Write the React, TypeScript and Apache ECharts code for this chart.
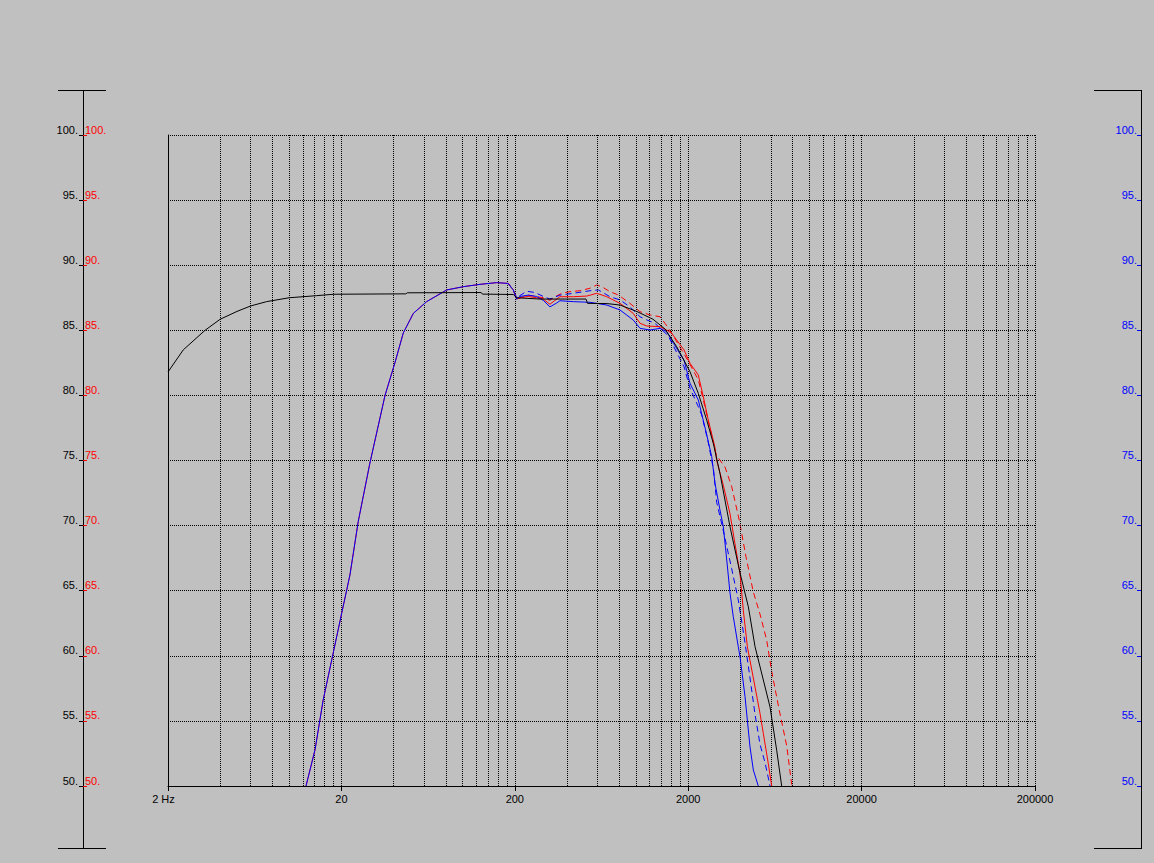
import React, { useEffect, useRef } from "react";
import * as echarts from "echarts";

const FONT = "'Liberation Sans', Arial, sans-serif";

// x-axis labelled frequencies (Hz)
const freqLabels = [2, 20, 200, 2000, 20000, 200000];

// vertical dotted grid frequencies (Hz)
const gridFreqs = [
  4, 6, 8, 10, 12, 14, 16, 18, 20,
  40, 60, 80, 100, 120, 140, 160, 180, 200,
  400, 600, 800, 1000, 1200, 1400, 1600, 1800, 2000,
  4000, 6000, 8000, 10000, 12000, 14000, 16000, 18000, 20000,
  40000, 60000, 80000, 100000, 120000, 140000, 160000, 180000, 200000,
];

// [frequency Hz, level dB]
const blackCurve = [
  [2, 81.8], [2.45, 83.5], [3.27, 85.0], [4, 85.85], [5, 86.45], [6, 86.87], [7.4, 87.2],
  [10, 87.5], [14.4, 87.66], [18, 87.77], [47, 87.8], [48, 87.88], [128, 87.9], [130, 87.78],
  [196, 87.75], [205, 87.5], [280, 87.4], [515, 87.4], [525, 87.07], [681, 87.05], [809, 86.94],
  [1009, 86.45], [1253, 85.85], [1469, 85.1], [1717, 83.74], [2048, 81.82], [2287, 80.16],
  [2558, 78.1], [2793, 76.3], [3050, 74.0], [3486, 69.9], [3980, 66.36], [4446, 63.77],
  [4858, 60.7], [5929, 56.07], [6477, 52.74], [6920, 50.0],
];

const blueSolid = [
  [12.5, 50], [14.1, 52.8], [15.7, 56.6], [17.6, 59.7], [20.1, 63.3], [22.4, 66.2], [25, 70.3],
  [29.2, 74.8], [35.7, 80.0], [40.7, 82.5], [45.5, 84.8], [52, 86.3], [62, 87.2], [81, 88.1],
  [101, 88.35], [126, 88.53], [157, 88.66], [183, 88.6], [196, 88.1], [205, 87.4], [214, 87.6],
  [239, 87.7], [267, 87.6], [292, 87.3], [319, 86.8], [349, 87.1], [364, 87.27], [435, 87.2],
  [543, 87.15], [678, 86.94], [809, 86.56], [964, 85.79], [1055, 85.15], [1204, 85.02],
  [1375, 85.15], [1503, 84.9], [1645, 84.0], [1893, 82.7], [2048, 80.93], [2287, 79.65],
  [2521, 77.34], [2733, 75.3], [2855, 73.25], [3050, 71.2], [3189, 69.9], [3337, 67.36],
  [3486, 64.8], [3640, 63.0], [3889, 60.7], [3980, 59.93], [4253, 56.86], [4544, 53.0],
  [4750, 51.23], [5072, 50.0],
];

const redSolid = [
  [12.5, 50], [14.1, 52.8], [15.7, 56.6], [17.6, 59.7], [20.1, 63.3], [22.4, 66.2], [25, 70.3],
  [29.2, 74.8], [35.7, 80.0], [40.7, 82.5], [45.5, 84.8], [52, 86.3], [62, 87.2], [81, 88.1],
  [101, 88.35], [126, 88.53], [157, 88.66], [183, 88.6], [196, 88.1], [205, 87.4], [214, 87.5],
  [239, 87.6], [267, 87.5], [292, 87.4], [319, 87.0], [341, 87.3], [364, 87.58], [435, 87.58],
  [520, 87.63], [594, 87.84], [678, 87.58], [809, 87.07], [964, 86.3], [1055, 85.54],
  [1153, 85.33], [1375, 85.28], [1503, 85.02], [1606, 84.77], [1893, 83.49], [2048, 82.47],
  [2287, 81.57], [2444, 79.9], [2612, 78.1], [2855, 76.0], [2919, 75.0], [3189, 73.1],
  [3486, 70.9], [3723, 68.6], [3980, 66.3], [4158, 63.5], [4388, 60.7], [4858, 57.6],
  [5187, 55.6], [5422, 54.05], [5795, 51.7], [6060, 50.0],
];

const blueDashed = [
  [183, 88.6], [196, 88.1], [205, 87.5], [234, 88.0], [262, 87.9], [292, 87.6], [319, 87.4],
  [364, 87.7], [435, 87.84], [543, 88.04], [606, 88.1], [708, 87.58], [809, 87.33], [923, 86.8],
  [1055, 86.04], [1153, 85.8], [1285, 85.54], [1530, 84.6], [1893, 82.2], [2048, 80.57],
  [2287, 79.13], [2392, 78.5], [2600, 76.5], [2800, 74.3], [2919, 71.8], [3189, 69.6],
  [3561, 66.7], [3889, 64.3], [4253, 61.0], [4544, 58.3], [4858, 55.5], [5190, 53.2],
  [5547, 51.8], [5929, 50.0],
];

const redDashed = [
  [183, 88.6], [196, 88.1], [205, 87.4], [240, 87.7], [292, 87.5], [319, 87.3], [341, 87.58],
  [373, 87.84], [416, 87.97], [475, 88.04], [543, 88.23], [594, 88.48], [634, 88.35],
  [708, 87.97], [791, 87.71], [923, 87.07], [1055, 86.43], [1204, 86.18], [1375, 86.04],
  [1469, 85.54], [1606, 84.77], [1835, 83.49], [2006, 82.6], [2287, 81.2], [2444, 79.65],
  [2905, 75.4], [3260, 74.5], [3563, 73.0], [3942, 70.4], [4309, 67.6], [4749, 64.9],
  [5190, 63.2], [5672, 61.2], [6061, 58.8], [6706, 55.8], [7397, 53.1], [7906, 50.1],
];

const Y_MIN = 50;
const Y_MAX = 100;
const Y_STEP = 5;

function curve(data: number[][], color: string, dashed: boolean, z: number) {
  return {
    type: "line",
    data,
    symbol: "none",
    showSymbol: false,
    silent: true,
    z,
    lineStyle: { color, width: 1, type: dashed ? [6, 4] : "solid" },
    emphasis: { disabled: true },
  };
}

export default function App() {
  const ref = useRef<HTMLDivElement>(null);

  useEffect(() => {
    if (!ref.current) return;
    const chart = echarts.init(ref.current, null, { renderer: "svg" });
    const yBase = { type: "value", min: Y_MIN, max: Y_MAX, interval: Y_STEP, gridIndex: 0 };
    const option: any = {
      animation: false,
      backgroundColor: "#c0c0c0",
      textStyle: { fontFamily: FONT },
      grid: { left: 168, top: 135, width: 867, height: 651, show: false },
      xAxis: {
        type: "log",
        logBase: 10,
        min: 2,
        max: 200000,
        axisLine: { show: true, onZero: false, lineStyle: { color: "#000", width: 1 } },
        axisTick: { show: true, customValues: freqLabels, length: 5, lineStyle: { color: "#000" } },
        axisLabel: {
          customValues: freqLabels,
          color: "#000",
          fontSize: 11,
          fontFamily: FONT,
          margin: 7,
          formatter: (v: number) => (Math.round(v) === 2 ? "{a|2 Hz}" : String(Math.round(v))),
          rich: { a: { color: "#000", fontSize: 11, fontFamily: FONT, padding: [0, 9, 0, 0] } },
        },
        splitLine: { show: false },
        minorTick: { show: false },
        minorSplitLine: { show: false },
      },
      yAxis: [
        {
          ...yBase,
          position: "left",
          axisLine: { show: true, lineStyle: { color: "#000", width: 1 } },
          axisTick: { show: false },
          axisLabel: { show: false },
          splitLine: { show: true, lineStyle: { color: "#000", width: 1, type: [1, 1] } },
        },
        {
          ...yBase,
          position: "left",
          offset: 85,
          axisLine: { show: false },
          axisTick: { show: true, length: 4, lineStyle: { color: "#000" } },
          axisLabel: {
            color: "#000", fontSize: 11, fontFamily: FONT, margin: 5,
            verticalAlign: "bottom", lineHeight: 11,
            formatter: (v: number) => v + ".",
          },
          splitLine: { show: false },
        },
        {
          ...yBase,
          position: "left",
          offset: 85,
          axisLine: { show: false },
          axisTick: { show: true, inside: true, length: 4, lineStyle: { color: "#ff0000" } },
          axisLabel: {
            inside: true, color: "#ff0000", fontSize: 11, fontFamily: FONT, margin: 2,
            verticalAlign: "bottom", lineHeight: 11,
            formatter: (v: number) => v + ".",
          },
          splitLine: { show: false },
        },
        {
          ...yBase,
          position: "right",
          offset: 106,
          axisLine: { show: false },
          axisTick: { show: true, inside: true, length: 4, lineStyle: { color: "#0000ff" } },
          axisLabel: {
            inside: true, color: "#0000ff", fontSize: 11, fontFamily: FONT, margin: 4,
            verticalAlign: "bottom", lineHeight: 11,
            formatter: (v: number) => v + ".",
          },
          splitLine: { show: false },
        },
      ],
      graphic: [
        { type: "line", shape: { x1: 83.5, y1: 90, x2: 83.5, y2: 849 }, style: { stroke: "#000", lineWidth: 1 }, silent: true },
        { type: "line", shape: { x1: 58, y1: 90.5, x2: 106, y2: 90.5 }, style: { stroke: "#000", lineWidth: 1 }, silent: true },
        { type: "line", shape: { x1: 58, y1: 848.5, x2: 106, y2: 848.5 }, style: { stroke: "#000", lineWidth: 1 }, silent: true },
        { type: "line", shape: { x1: 1141.5, y1: 90, x2: 1141.5, y2: 849 }, style: { stroke: "#000", lineWidth: 1 }, silent: true },
        { type: "line", shape: { x1: 1094, y1: 90.5, x2: 1142, y2: 90.5 }, style: { stroke: "#000", lineWidth: 1 }, silent: true },
        { type: "line", shape: { x1: 1094, y1: 848.5, x2: 1142, y2: 848.5 }, style: { stroke: "#000", lineWidth: 1 }, silent: true },
      ],
      series: [
        {
          type: "line",
          data: [],
          silent: true,
          z: 1,
          markLine: {
            silent: true,
            symbol: ["none", "none"],
            label: { show: false },
            emphasis: { disabled: true },
            lineStyle: { color: "#000", width: 1, type: [1, 1] },
            data: gridFreqs.map((f) => ({ xAxis: f })),
          },
        },
        curve(redDashed, "#ff0000", true, 3),
        curve(blueDashed, "#0000ff", true, 4),
        curve(redSolid, "#ff0000", false, 5),
        curve(blueSolid, "#0000ff", false, 6),
        curve(blackCurve, "#000000", false, 7),
      ],
    };
    chart.setOption(option);
    return () => chart.dispose();
  }, []);

  return (
    <div
      ref={ref}
      style={{ position: "absolute", left: 0, top: 0, width: 1154, height: 863, background: "#c0c0c0" }}
    />
  );
}
